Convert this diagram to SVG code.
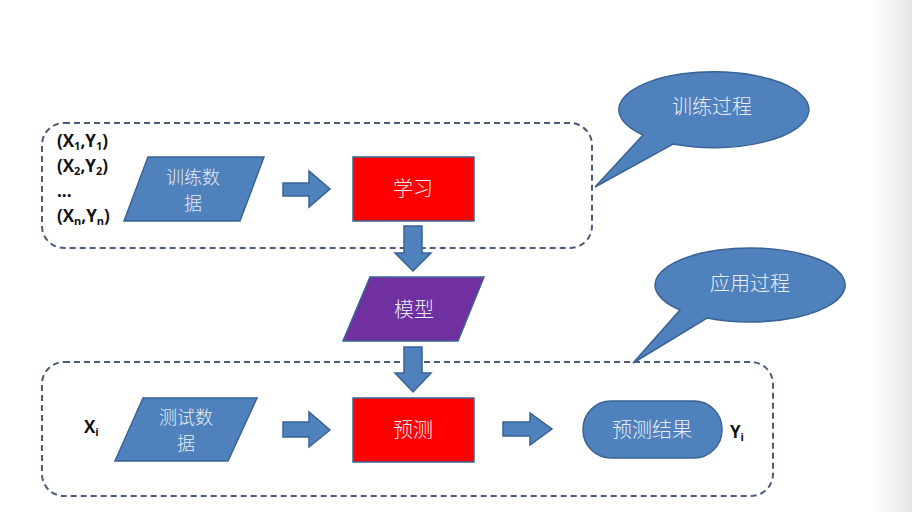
<svg xmlns="http://www.w3.org/2000/svg" width="912" height="512" viewBox="0 0 912 512">
<style>
.blue{fill:#4F81BD;stroke:#3A6394;stroke-width:1.5}
.red{fill:#FF0000;stroke:#3A6394;stroke-width:1.5}
.purple{fill:#7030A0;stroke:#3A6394;stroke-width:1.5}
.dash{fill:none;stroke:#4B5B78;stroke-width:2;stroke-dasharray:6 4}
.cn{font-family:"Noto Sans CJK SC","Noto Sans",sans-serif;font-size:20px;font-weight:300;fill:#E8ECF4;text-anchor:middle}
.cn2{font-size:18px}
.lbl{font-family:"Open Sans","Liberation Sans",sans-serif;font-weight:bold;font-size:17px;fill:#111}
.sub{font-size:11px}
</style>
<defs>
<linearGradient id="edge" x1="0" y1="0" x2="1" y2="0">
<stop offset="0" stop-color="#ffffff"/>
<stop offset="1" stop-color="#e6e6e6"/>
</linearGradient>
</defs>
<rect width="912" height="512" fill="#ffffff"/>
<rect x="870" y="0" width="42" height="512" fill="url(#edge)"/>

<g id="train-box"><rect class="dash" x="42" y="123" width="550" height="125" rx="22"/></g>
<g id="apply-box"><rect class="dash" x="42" y="362" width="731" height="134" rx="22"/></g>

<g id="train-labels" class="lbl">
<text x="57" y="147">(X<tspan class="sub" dy="3">1</tspan><tspan dy="-3">,Y</tspan><tspan class="sub" dy="3">1</tspan><tspan dy="-3">)</tspan></text>
<text x="57" y="172">(X<tspan class="sub" dy="3">2</tspan><tspan dy="-3">,Y</tspan><tspan class="sub" dy="3">2</tspan><tspan dy="-3">)</tspan></text>
<text x="57" y="197">...</text>
<text x="57" y="222">(X<tspan class="sub" dy="3">n</tspan><tspan dy="-3">,Y</tspan><tspan class="sub" dy="3">n</tspan><tspan dy="-3">)</tspan></text>
</g>

<g id="train-data">
<polygon class="blue" points="148,157 264,157 240,221 124,221"/>
<text class="cn cn2" x="193" y="184">训练数</text>
<text class="cn cn2" x="193" y="210">据</text>
</g>

<g id="learn">
<rect class="red" x="353" y="157" width="121" height="64"/>
<text class="cn" x="413" y="196">学习</text>
</g>

<g id="model">
<polygon class="purple" points="370,277 484,277 458,341 343,341"/>
<text class="cn" x="414" y="317">模型</text>
</g>

<g id="xi"><text class="lbl" x="84" y="433">X<tspan class="sub" dy="3">i</tspan></text></g>

<g id="test-data">
<polygon class="blue" points="143,398 257,398 228,461 115,461"/>
<text class="cn cn2" x="186" y="424">测试数</text>
<text class="cn cn2" x="186" y="450">据</text>
</g>

<g id="predict">
<rect class="red" x="353" y="398" width="121" height="64"/>
<text class="cn" x="413" y="437">预测</text>
</g>

<g id="result">
<rect class="blue" x="583" y="401" width="139" height="57" rx="28"/>
<text class="cn" x="652" y="437">预测结果</text>
</g>

<g id="yi"><text class="lbl" x="730" y="438">Y<tspan class="sub" dy="3">i</tspan></text></g>

<g id="callout-train">
<path class="blue" d="M643,135 L595,187 L673,144 A95,38 0 1 0 643,135 Z"/>
<text class="cn" x="712" y="114">训练过程</text>
</g>

<g id="callout-apply">
<path class="blue" d="M680,310 L633,363 L707,318 A95,37 0 1 0 680,310 Z"/>
<text class="cn" x="750" y="291">应用过程</text>
</g>

<g id="connectors">
<path class="blue" d="M283,183 L309,183 L309,171 L330,189 L309,207 L309,196 L283,196 Z"/>
<path class="blue" d="M404,226 L422,226 L422,253 L431,253 L413,271 L395,253 L404,253 Z"/>
<path class="blue" d="M404,347 L422,347 L422,373 L431,373 L413,392 L395,373 L404,373 Z"/>
<path class="blue" d="M283,422 L309,422 L309,412 L330,430 L309,447 L309,437 L283,437 Z"/>
<path class="blue" d="M503,422 L530,422 L530,413 L552,429 L530,445 L530,436 L503,436 Z"/>
</g>
</svg>
